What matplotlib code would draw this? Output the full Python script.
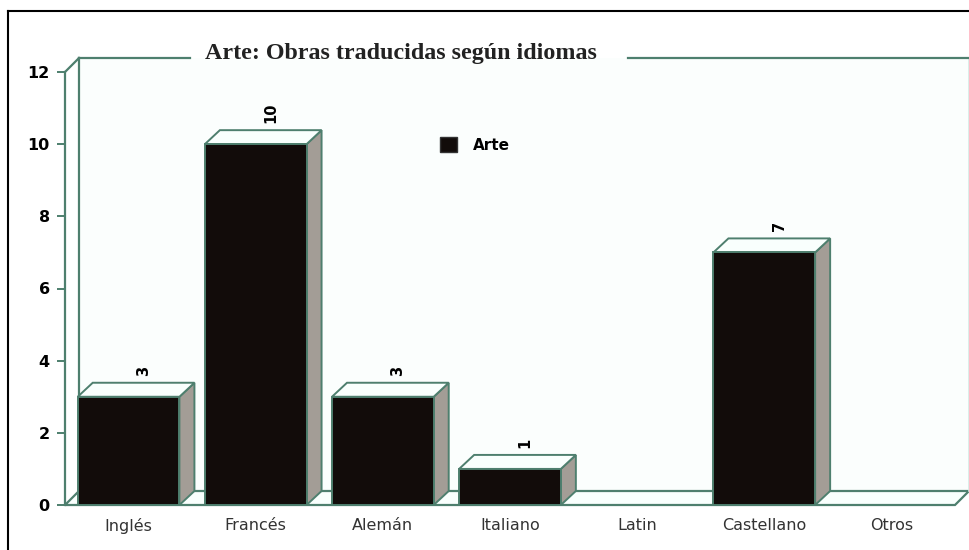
import matplotlib
matplotlib.use("Agg")
import matplotlib.pyplot as plt
from matplotlib.patches import Polygon, Patch
from matplotlib.lines import Line2D

categories = ["Inglés", "Francés", "Alemán", "Italiano", "Latin", "Castellano", "Otros"]
values = [3, 10, 3, 1, 0, 7, 0]
series_name = "Arte"
title = "Arte: Obras traducidas según idiomas"
yticks = [0, 2, 4, 6, 8, 10, 12]

W, H = 969, 550
fig = plt.figure(figsize=(W / 100, H / 100), dpi=100)
fig.patch.set_facecolor("white")

# axes area = front plane of the chart
L, R, T, B = 65, 955, 72, 505
ax = fig.add_axes([L / W, (H - B) / H, (R - L) / W, (B - T) / H])
ax.set_xlim(-0.5, len(categories) - 0.5)
ax.set_ylim(0, 12)
ax.patch.set_visible(False)

xpx = (R - L) / len(categories)
ypx = (B - T) / 12.0
DX = 15 / xpx      # bar depth (x)
DY = 14 / ypx      # bar depth (y)
WDX = 14 / xpx     # wall depth
EDGE = "#4e7f6e"
WALL = "#fbfefd"
FRONT = "#120c0a"
SIDE = "#a39d96"
TOP = "#f9fffd"

x0, x1 = -0.5, len(categories) - 0.5
# back wall
ax.add_patch(Polygon([(x0 + WDX, DY), (x1 + WDX, DY), (x1 + WDX, 12 + DY), (x0 + WDX, 12 + DY)],
                     closed=True, facecolor=WALL, edgecolor="none", clip_on=False, zorder=0))
# floor
ax.add_patch(Polygon([(x0, 0), (x1, 0), (x1 + WDX, DY), (x0 + WDX, DY)], closed=True,
                     facecolor=TOP, edgecolor=EDGE, lw=1.6, clip_on=False, zorder=1))
# left wall lines
ax.plot([x0 + WDX, x0 + WDX], [DY, 12 + DY], color=EDGE, lw=1.6, clip_on=False, zorder=1)
ax.plot([x0, x0 + WDX], [12, 12 + DY], color=EDGE, lw=1.6, clip_on=False, zorder=1)
# right wall line (faint)
ax.plot([x1 + WDX, x1 + WDX], [DY, 12 + DY], color="#d5ebe5", lw=1.2, clip_on=False, zorder=1)
# top wall line broken by title
gapL = (190 - L) / xpx - 0.5
gapR = (628 - L) / xpx - 0.5
ax.plot([x0 + WDX, gapL], [12 + DY, 12 + DY], color=EDGE, lw=1.6, clip_on=False, zorder=1)
ax.plot([gapR, x1 + WDX + 0.2], [12 + DY, 12 + DY], color=EDGE, lw=1.6, clip_on=False, zorder=1)

# bars
bw = 0.8
for i, v in enumerate(values):
    if v <= 0:
        continue
    a, b = i - bw / 2, i + bw / 2
    ax.add_patch(Polygon([(b, 0), (b + DX, DY), (b + DX, v + DY), (b, v)], closed=True,
                         facecolor=SIDE, edgecolor=EDGE, lw=1.4, clip_on=False, zorder=3))
    ax.add_patch(Polygon([(a, v), (a + DX, v + DY), (b + DX, v + DY), (b, v)], closed=True,
                         facecolor=TOP, edgecolor=EDGE, lw=1.4, clip_on=False, zorder=3))
    ax.bar(i, v, width=bw, color=FRONT, edgecolor=EDGE, lw=1.4, zorder=4, clip_on=False)
    ax.text(i + DX, v + DY + 7 / ypx, str(v), rotation=90, ha="center", va="bottom",
            fontsize=10.5, fontweight="heavy", color="black", zorder=5)

# axes styling
for s in ["top", "right", "bottom"]:
    ax.spines[s].set_visible(False)
ax.spines["left"].set_color(EDGE)
ax.spines["left"].set_linewidth(1.6)
ax.set_yticks(yticks)
ax.set_yticklabels([str(t) for t in yticks], fontsize=11.5, fontweight="heavy", color="black")
ax.tick_params(axis="y", length=6, width=1.4, color=EDGE, pad=5)
ax.set_xticks(range(len(categories)))
ax.set_xticklabels(categories, fontsize=11.5, color="#333333")
ax.tick_params(axis="x", length=0, pad=9)

# title
fig.text(401 / W, 1 - 54 / H, title, ha="center", va="center", fontsize=17.3,
         fontweight="bold", family="Liberation Serif", color="#222222")

# legend
ax.legend(handles=[Patch(facecolor=FRONT, edgecolor="#333333", label=series_name)],
          loc="center left", bbox_to_anchor=((426 - L) / (R - L), (B - 145) / (B - T)),
          frameon=False, handlelength=1.1, handleheight=1.1, handletextpad=1.1,
          prop={"weight": "heavy", "size": 11})

# outer frame (left and top)
fig.add_artist(Line2D([8 / W, 8 / W], [0, 1 - 11 / H], color="black", lw=1.5))
fig.add_artist(Line2D([8 / W, 1], [1 - 11 / H, 1 - 11 / H], color="black", lw=1.5))

fig.savefig("out.png", dpi=100)
